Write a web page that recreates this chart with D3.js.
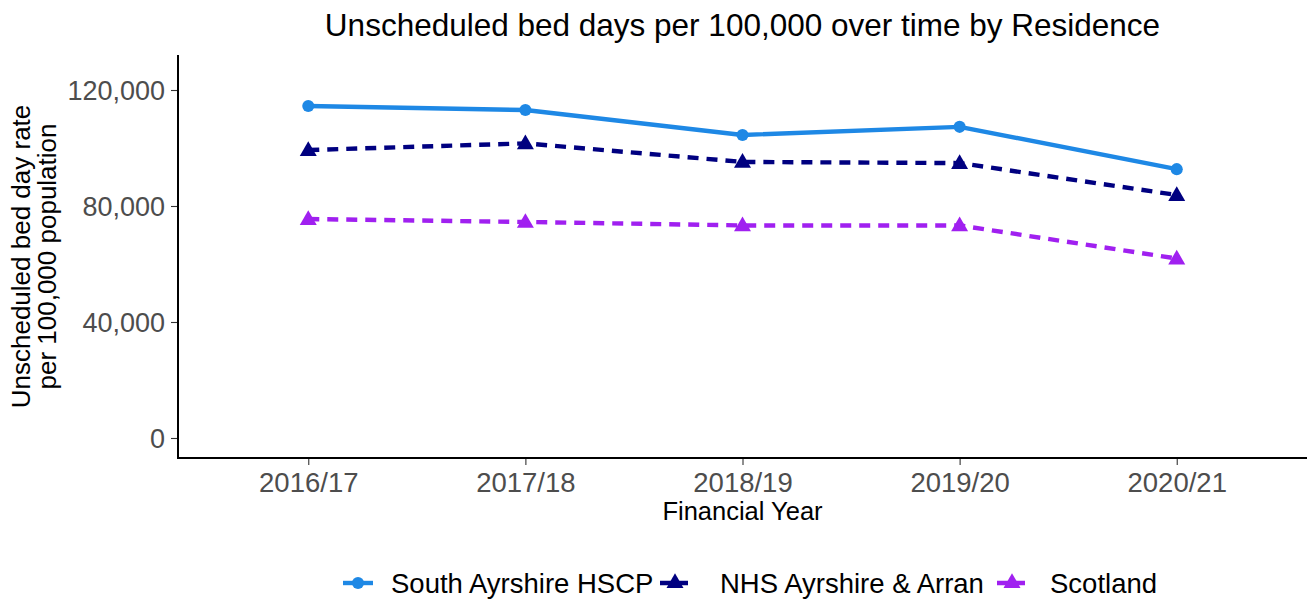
<!DOCTYPE html>
<html>
<head>
<meta charset="utf-8">
<script src="https://cdn.jsdelivr.net/npm/d3@7"></script>
<style>
  html, body { margin: 0; padding: 0; background: #fff; }
  svg { display: block; font-family: "Liberation Sans", Arial, sans-serif; }
</style>
</head>
<body>
<svg id="chart" width="1312" height="601"></svg>
<script>
// Financial years on the x axis
const years = ["2016/17", "2017/18", "2018/19", "2019/20", "2020/21"];

// Unscheduled bed day rate per 100,000 population
const southAyrshire = [114500, 113100, 104500, 107300, 92700];
const nhsAyrshireArran = [99300, 101600, 95200, 94800, 83800];
const scotland = [75500, 74500, 73300, 73300, 61900];

const yTicks = [0, 40000, 80000, 120000];

const series = [
  { name: "South Ayrshire HSCP", values: southAyrshire, color: "#1E88E5", dash: null, shape: "circle" },
  { name: "NHS Ayrshire & Arran", values: nhsAyrshireArran, color: "#000080", dash: "11,8", shape: "triangle" },
  { name: "Scotland", values: scotland, color: "#A020F0", dash: "11,8", shape: "triangle" }
];

const svg = d3.select("#chart");
const plot = { left: 178, right: 1307, top: 55, bottom: 458 };
const FONT = "'Liberation Sans', Arial, sans-serif";

const x = d3.scalePoint().domain(years).range([plot.left, plot.right]).padding(0.6);
const y = d3.scaleLinear().domain([-6900, 132070]).range([plot.bottom, plot.top]);

// Title
svg.append("text")
  .attr("x", (plot.left + plot.right) / 2).attr("y", 36)
  .attr("text-anchor", "middle")
  .attr("font-size", 31.5).attr("fill", "#000")
  .text("Unscheduled bed days per 100,000 over time by Residence");

// Axes
const yAxis = svg.append("g")
  .attr("transform", `translate(${plot.left},0)`)
  .call(d3.axisLeft(y).tickValues(yTicks).tickFormat(d3.format(",")).tickSize(7).tickPadding(6));
const xAxis = svg.append("g")
  .attr("transform", `translate(0,${plot.bottom})`)
  .call(d3.axisBottom(x).tickSize(7));

[yAxis, xAxis].forEach(g => {
  g.select(".domain").remove();
  g.selectAll(".tick line").attr("stroke", "#333").attr("stroke-width", 1.1);
  g.selectAll(".tick text").attr("fill", "#4D4D4D").attr("font-family", FONT);
});
yAxis.selectAll(".tick text").attr("font-size", 27).attr("dy", "0.36em");
xAxis.selectAll(".tick text").attr("font-size", 27.5).attr("y", 34).attr("dy", 0);

// Axis lines
svg.append("line")
  .attr("x1", plot.left).attr("x2", plot.left)
  .attr("y1", plot.top).attr("y2", plot.bottom + 1)
  .attr("stroke", "#000").attr("stroke-width", 2);
svg.append("line")
  .attr("x1", plot.left - 1).attr("x2", plot.right)
  .attr("y1", plot.bottom).attr("y2", plot.bottom)
  .attr("stroke", "#000").attr("stroke-width", 2);

// Axis titles
svg.append("text")
  .attr("x", (plot.left + plot.right) / 2).attr("y", 520)
  .attr("text-anchor", "middle").attr("font-size", 25.5).attr("fill", "#000")
  .text("Financial Year");

const yTitle = svg.append("text")
  .attr("transform", `translate(0,${(plot.top + plot.bottom) / 2}) rotate(-90)`)
  .attr("text-anchor", "middle").attr("font-size", 26).attr("fill", "#000");
yTitle.append("tspan").attr("x", 0).attr("y", 30).text("Unscheduled bed day rate");
yTitle.append("tspan").attr("x", 0).attr("y", 56).text("per 100,000 population");

// Marker shapes
const circleSym = d3.symbol().type(d3.symbolCircle).size(115);
const triSym = d3.symbol().type(d3.symbolTriangle).size(125);
function marker(g, shape, color) {
  g.append("path")
    .attr("d", shape === "circle" ? circleSym() : triSym())
    .attr("fill", color);
}

// Lines and points
const line = d3.line().x((d, i) => x(years[i])).y(d => y(d));
series.forEach(s => {
  svg.append("path")
    .datum(s.values)
    .attr("d", line)
    .attr("fill", "none")
    .attr("stroke", s.color)
    .attr("stroke-width", 4.4)
    .attr("stroke-dasharray", s.dash)
    .attr("stroke-linejoin", "round");
  s.values.forEach((v, i) => {
    const g = svg.append("g").attr("transform", `translate(${x(years[i])},${y(v) + (s.shape === "triangle" ? 1 : 0)})`);
    marker(g, s.shape, s.color);
  });
});

// Legend
const legendY = 583;
const legendItems = [
  { x: 343, tx: 391 },
  { x: 660, tx: 720 },
  { x: 997, tx: 1050 }
];
series.forEach((s, i) => {
  const li = legendItems[i];
  svg.append("line")
    .attr("x1", li.x).attr("x2", li.x + 30)
    .attr("y1", legendY).attr("y2", legendY)
    .attr("stroke", s.color).attr("stroke-width", 4.4)
    .attr("stroke-dasharray", s.dash ? "12,4" : null);
  const g = svg.append("g").attr("transform", `translate(${li.x + 15},${legendY})`);
  marker(g, s.shape, s.color);
  svg.append("text")
    .attr("x", li.tx).attr("y", legendY).attr("dy", "0.36em")
    .attr("font-size", 27.5).attr("fill", "#000")
    .text(s.name);
});
</script>
</body>
</html>
